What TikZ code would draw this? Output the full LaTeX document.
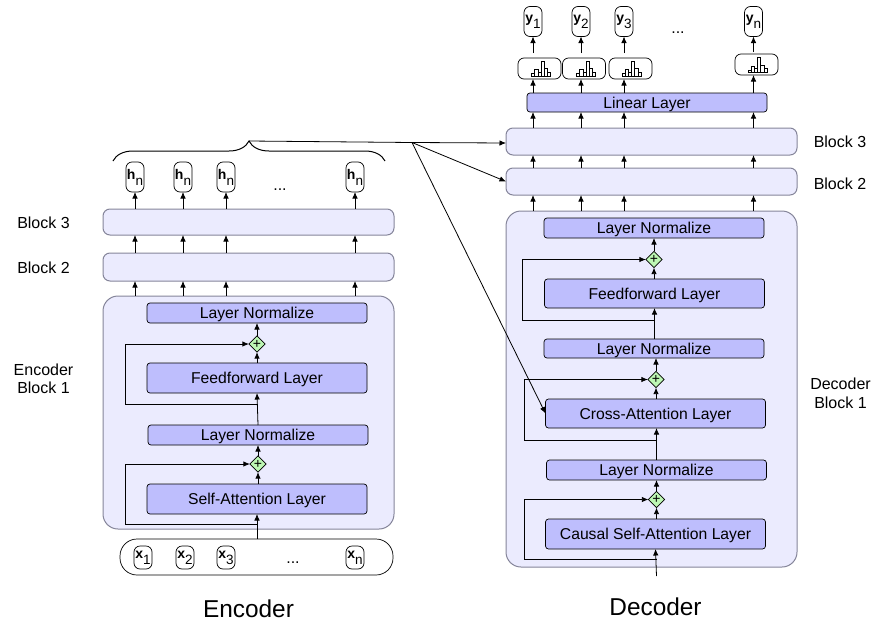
\documentclass[tikz,border=0pt]{standalone}
\usepackage{fontspec}
\setmainfont{Liberation Sans}
\usetikzlibrary{positioning,shapes.geometric,arrows.meta,decorations.pathreplacing}
\definecolor{blockfill}{HTML}{EBEBFE}
\definecolor{blockline}{HTML}{85859A}
\definecolor{layerfill}{HTML}{BEBEFD}
\definecolor{addfill}{HTML}{BDF7B4}
\newcommand{\tok}[2]{\raisebox{3pt}{\textbf{#1}}\raisebox{-3pt}{\fontsize{13.5}{13.5}\selectfont #2}}
\tikzset{
  blockbig/.style={draw=blockline,line width=1pt,fill=blockfill,rounded corners=15pt,minimum width=291pt,inner sep=0pt,outer sep=0pt},
  blockbox/.style={draw=blockline,line width=1pt,fill=blockfill,rounded corners=7pt,minimum width=291pt,inner sep=0pt,outer sep=0pt},
  layerbox/.style={draw=black,line width=.7pt,fill=layerfill,rounded corners=3pt,minimum width=220pt,inner sep=0pt,outer sep=0pt,text depth=0pt,font=\fontsize{15.7}{15.7}\selectfont},
  addbox/.style={draw=black,line width=.7pt,fill=addfill,shape=diamond,minimum width=16pt,minimum height=16pt,inner sep=0pt,outer sep=0pt,font=\fontsize{14}{14}\selectfont},
  tokbox/.style={draw=black,line width=.7pt,fill=white,rounded corners=6pt,minimum width=18pt,minimum height=30pt,inner sep=0pt,outer sep=0pt,font=\fontsize{14}{14}\selectfont},
  histbox/.style={draw=black,line width=.7pt,fill=white,rounded corners=6pt,minimum width=43pt,minimum height=21pt,inner sep=0pt,outer sep=0pt},
  sidelabel/.style={align=center,font=\fontsize{16}{18.5}\selectfont},
  titlelabel/.style={font=\fontsize{24.4}{24.4}\selectfont},
  dotslabel/.style={font=\fontsize{16}{16}\selectfont},
  arr/.style={-{Latex[length=6.5pt,width=5.5pt]},line width=.8pt},
  histbars/.pic={
    \foreach \i/\h in {0/2.5,1/6.5,2/4,3/15,4/7.5,5/4}
      \draw[line width=.7pt] (\i*3.2,0) rectangle ++(3.2,-\h);
  }
}
\begin{document}
\begin{tikzpicture}[x=1pt,y=-1pt]
\useasboundingbox (0,0) rectangle (876,627);

% encoder
\node[blockbig,minimum height=233pt] (enBlockA) at (248.5,412.5) {};
\node[blockbox,minimum height=28pt] (enBlockB) at (248.5,267) {};
\node[blockbox,minimum height=26pt] (enBlockC) at (248.5,222) {};
\node[layerbox,minimum height=20pt] (enNormB) at (257,313) {Layer Normalize};
\node[addbox] (enAddB) at (257,344) {+};
\node[layerbox,minimum height=30pt] (enFeed) at (257,378) {Feedforward Layer};
\node[layerbox,minimum height=20pt] (enNormA) at (258,435) {Layer Normalize};
\node[addbox] (enAddA) at (258,464) {+};
\node[layerbox,minimum height=30pt] (enSelf) at (257,499) {Self-Attention Layer};
\draw[line width=.7pt,fill=white,rounded corners=17pt] (120,539) rectangle (393,575);
\coordinate (enInput) at (257,539);
\node[tokbox,minimum height=23pt] (x1) at (143,557.5) {\tok{x}{1}};
\node[tokbox,minimum height=23pt] (x2) at (185,557.5) {\tok{x}{2}};
\node[tokbox,minimum height=23pt] (x3) at (226,557.5) {\tok{x}{3}};
\node[tokbox,minimum height=23pt] (xn) at (355,557.5) {\tok{x}{n}};
\node[dotslabel] (xdots) at (293,563) {...};
\node[tokbox] (h1) at (135,177) {\tok{h}{n}};
\node[tokbox] (h2) at (183,177) {\tok{h}{n}};
\node[tokbox] (h3) at (226,177) {\tok{h}{n}};
\node[tokbox] (hn) at (355,177) {\tok{h}{n}};
\node[dotslabel] (hdots) at (280,190) {...};
\foreach \n in {h1,h2,h3,hn} {
  \draw[arr] (enBlockA.north -| \n) -- (enBlockB.south -| \n);
  \draw[arr] (enBlockB.north -| \n) -- (enBlockC.south -| \n);
  \draw[arr] (enBlockC.north -| \n) -- (\n.south);
}
\draw[arr] (enInput) -- (enSelf.south);
\draw[arr] (enSelf.north -| enAddA) -- (enAddA.south);
\draw[arr] (enAddA.north) -- (enNormA.south -| enAddA);
\draw[arr] (enNormA.north) -- (enFeed.south);
\draw[arr] (enFeed.north) -- (enAddB.south);
\draw[arr] (enAddB.north) -- (enNormB.south);
\coordinate (enTapA) at (257,524);
\coordinate (enTapB) at (257.5,404);
\draw[arr] (enTapA) -- (125,524) |- (enAddA.west);
\draw[arr] (enTapB) -- (125,404) |- (enAddB.west);

% brace and cross connections
\coordinate (braceL) at (113,161);
\coordinate (braceR) at (385,161);
\coordinate (braceTip) at (249,141);
\coordinate (splitPt) at (412,142.5);
\draw[line width=1pt,decorate,decoration={brace,amplitude=20pt}] (braceL) -- (braceR);

% decoder
\node[blockbig,minimum height=356pt] (deBlockA) at (651.5,389) {};
\node[blockbox,minimum height=27pt] (deBlockB) at (651.5,181.5) {};
\node[blockbox,minimum height=27pt] (deBlockC) at (651.5,141.5) {};
\node[layerbox,minimum height=20pt] (deNormC) at (654,228) {Layer Normalize};
\node[addbox] (deAddC) at (654,259.5) {+};
\node[layerbox,minimum height=29pt] (deFeed) at (654.5,293.5) {Feedforward Layer};
\node[layerbox,minimum height=19pt] (deNormB) at (654,348.5) {Layer Normalize};
\node[addbox] (deAddB) at (656,379.5) {+};
\node[layerbox,minimum height=29pt] (deCross) at (655.5,413.5) {Cross-Attention Layer};
\node[layerbox,minimum height=20pt] (deNormA) at (656.5,470) {Layer Normalize};
\node[addbox] (deAddA) at (656.5,499.5) {+};
\node[layerbox,minimum height=30pt] (deSelf) at (655.5,534) {Causal Self-Attention Layer};
\coordinate (deInput) at (656.5,576);
\node[layerbox,minimum width=240pt,minimum height=19pt] (deLinear) at (647,102.5) {Linear Layer};
\node[histbox] (d1) at (539.5,68.5) {};
\node[histbox] (d2) at (584,68.5) {};
\node[histbox] (d3) at (630.5,68.5) {};
\node[histbox] (dn) at (756.5,64.5) {};
\pic at (531.5,76) {histbars};
\pic at (576.5,76) {histbars};
\pic at (622,76) {histbars};
\pic at (748,72.5) {histbars};
\node[tokbox] (y1) at (533,21.5) {\tok{y}{1}};
\node[tokbox] (y2) at (581,21.5) {\tok{y}{2}};
\node[tokbox] (y3) at (624,21.5) {\tok{y}{3}};
\node[tokbox] (yn) at (753.5,21.5) {\tok{y}{n}};
\node[dotslabel] (ydots) at (678,33) {...};
\foreach \n in {y1,y2,y3,yn} {
  \draw[arr] (deBlockA.north -| \n) -- (deBlockB.south -| \n);
  \draw[arr] (deBlockB.north -| \n) -- (deBlockC.south -| \n);
  \draw[arr] (deBlockC.north -| \n) -- (deLinear.south -| \n);
}
\draw[arr] (deLinear.north -| y1) -- (d1.south -| y1);
\draw[arr] (deLinear.north -| y2) -- (d2.south -| y2);
\draw[arr] (deLinear.north -| y3) -- (d3.south -| y3);
\draw[arr] (deLinear.north -| yn) -- (dn.south -| yn);
\draw[arr,shorten <=5pt] (d1.north -| y1) -- (y1.south);
\draw[arr,shorten <=5pt] (d2.north -| y2) -- (y2.south);
\draw[arr,shorten <=5pt] (d3.north -| y3) -- (y3.south);
\draw[arr,shorten <=2pt] (dn.north -| yn) -- (yn.south);
\draw[arr] (deInput) -- (deSelf.south);
\draw[arr] (deSelf.north -| deAddA) -- (deAddA.south);
\draw[arr] (deAddA.north) -- (deNormA.south);
\draw[arr] (deNormA.north) -- (deCross.south -| deNormA);
\draw[arr] (deCross.north -| deAddB) -- (deAddB.south);
\draw[arr] (deAddB.north) -- (deNormB.south -| deAddB);
\draw[arr] (deNormB.north -| deFeed) -- (deFeed.south);
\draw[arr] (deFeed.north -| deAddC) -- (deAddC.south);
\draw[arr] (deAddC.north) -- (deNormC.south);
\coordinate (deTapA) at (656.5,559);
\coordinate (deTapB) at (656.5,440.5);
\coordinate (deTapC) at (655,320);
\draw[arr] (deTapA) -- (524,559) |- (deAddA.west);
\draw[arr] (deTapB) -- (524,440.5) |- (deAddB.west);
\draw[arr] (deTapC) -- (522,320) |- (deAddC.west);
\draw[arr] (braceTip) -- (splitPt) -- (deBlockC.west |- 0,143);
\draw[arr] (splitPt) -- (deBlockB.west);
\draw[arr] (splitPt) -- (deCross.west);

% labels
\node[sidelabel] (enLabelC) at (43.5,222.5) {Block 3};
\node[sidelabel] (enLabelB) at (43.5,267.5) {Block 2};
\node[sidelabel] (enLabelA) at (43.5,379) {Encoder\\Block 1};
\node[sidelabel] (deLabelC) at (840,142) {Block 3};
\node[sidelabel] (deLabelB) at (840,183.5) {Block 2};
\node[sidelabel] (deLabelA) at (840.5,393.5) {Decoder\\Block 1};
\node[titlelabel] (enTitle) at (248.5,609) {Encoder};
\node[titlelabel] (deTitle) at (655.5,607) {Decoder};
\end{tikzpicture}
\end{document}
